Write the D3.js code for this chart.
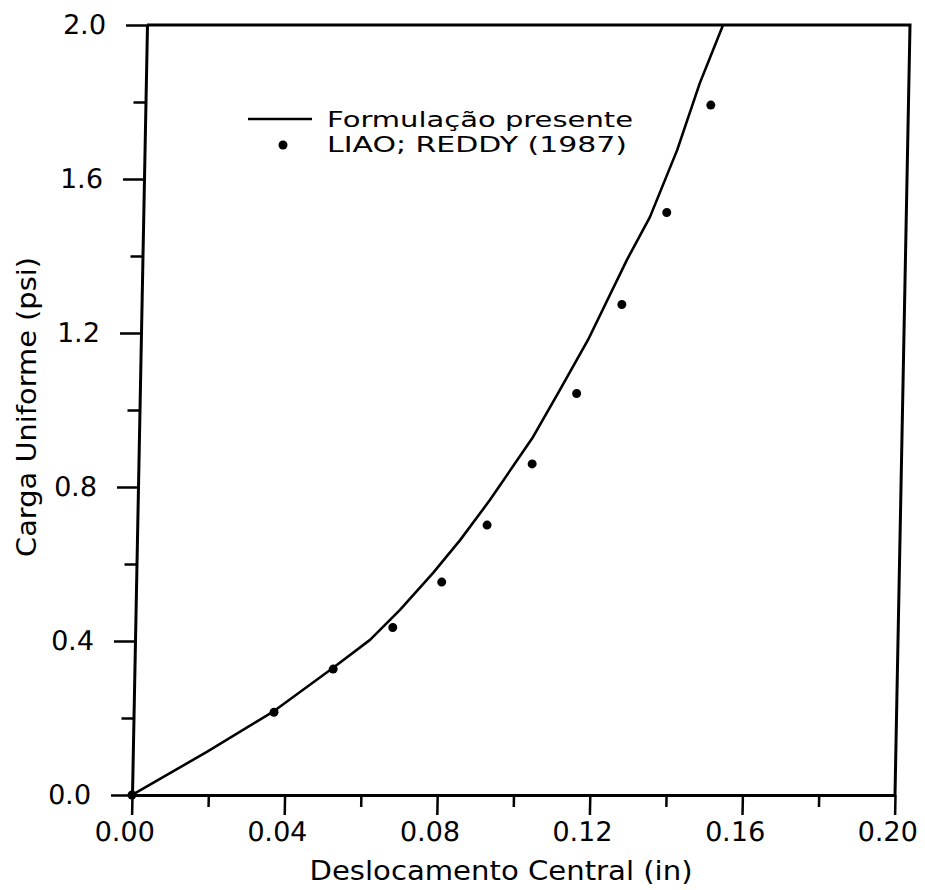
<!DOCTYPE html>
<html>
<head>
<meta charset="utf-8">
<script src="https://cdn.jsdelivr.net/npm/d3@7"></script>
<style>
  html, body { margin: 0; padding: 0; background: #fff; }
  svg { display: block; font-family: "DejaVu Sans", sans-serif; }
</style>
</head>
<body>
<svg id="chart" width="925" height="890"></svg>
<script>
// ---- data ----
const curveX = [0, 0.0194, 0.0368, 0.0520, 0.0616, 0.0693, 0.0778, 0.0847, 0.0923, 0.1033, 0.1101, 0.1172, 0.1270, 0.1328, 0.1396, 0.1452, 0.1510];
const curveY = [0, 0.112, 0.218, 0.330, 0.403, 0.481, 0.577, 0.662, 0.766, 0.930, 1.052, 1.182, 1.390, 1.501, 1.675, 1.849, 2.000];
const refX = [0, 0.0368, 0.0521, 0.0675, 0.0801, 0.0917, 0.1032, 0.1145, 0.1259, 0.1372, 0.1482];
const refY = [0, 0.215, 0.327, 0.435, 0.553, 0.701, 0.860, 1.043, 1.274, 1.513, 1.792];
const xTicks = [0, 0.04, 0.08, 0.12, 0.16, 0.20];
const xMinor = [0.02, 0.06, 0.10, 0.14, 0.18];
const yTicks = [0, 0.4, 0.8, 1.2, 1.6, 2.0];
const yMinor = [0.2, 0.6, 1.0, 1.4, 1.8];
const xTitle = "Deslocamento Central (in)";
const yTitle = "Carga Uniforme (psi)";
const legendLabels = ["Formulação presente", "LIAO; REDDY (1987)"];

// ---- layout ----
const svg = d3.select("#chart");
const W = 763, H = 770;
const originX = 132, originY = 795;
const skew = Math.atan(-15 / 770) * 180 / Math.PI;

const x = d3.scaleLinear().domain([0, 0.2]).range([0, W]);
const y = d3.scaleLinear().domain([0, 2]).range([0, -H]);

const g = svg.append("g")
  .attr("transform", `translate(${originX},${originY}) skewX(${skew})`);

g.append("clipPath").attr("id", "clip")
  .append("rect").attr("x", 0).attr("y", -H).attr("width", W).attr("height", H);

// minor ticks
g.append("g")
  .call(d3.axisBottom(x).tickValues(xMinor).tickSize(12).tickFormat(""))
  .call(s => s.select(".domain").remove())
  .selectAll("line").attr("stroke", "#000").attr("stroke-width", 2.5);
g.append("g").attr("transform", `translate(0,${-H})`)
  .call(d3.axisLeft(y.copy().range([H, 0])).tickValues(yMinor).tickSize(12).tickFormat(""))
  .call(s => s.select(".domain").remove())
  .selectAll("line").attr("stroke", "#000").attr("stroke-width", 2.5);

// major x axis
const xa = g.append("g")
  .call(d3.axisBottom(x).tickValues(xTicks).tickSize(20).tickSizeOuter(0).tickPadding(7)
    .tickFormat(d3.format(".2f")));
xa.select(".domain").attr("stroke", "#000").attr("stroke-width", 3);
xa.selectAll("line").attr("stroke", "#000").attr("stroke-width", 2.5);
xa.selectAll("text").attr("font-size", 27).attr("fill", "#000")
  .attr("font-family", "DejaVu Sans").attr("dx", -7);

// major y axis
const ya = g.append("g").attr("transform", `translate(0,${-H})`)
  .call(d3.axisLeft(y.copy().range([H, 0])).tickValues(yTicks).tickSize(21).tickSizeOuter(0).tickPadding(20)
    .tickFormat(d3.format(".1f")));
ya.select(".domain").attr("stroke", "#000").attr("stroke-width", 3);
ya.selectAll("line").attr("stroke", "#000").attr("stroke-width", 2.5);
ya.selectAll("text").attr("font-size", 27).attr("fill", "#000")
  .attr("font-family", "DejaVu Sans");

// top and right frame
g.append("path")
  .attr("d", `M${x(0)},${y(2)}H${x(0.2)}V${y(0)}`)
  .attr("fill", "none").attr("stroke", "#000").attr("stroke-width", 3);

// curve
const curveData = curveX.map((v, i) => [v, curveY[i]]);
g.append("path")
  .datum(curveData)
  .attr("clip-path", "url(#clip)")
  .attr("fill", "none").attr("stroke", "#000").attr("stroke-width", 2.6)
  .attr("stroke-linejoin", "round")
  .attr("d", d3.line().x(d => x(d[0])).y(d => y(d[1])));

// reference points
const refData = refX.map((v, i) => [v, refY[i]]);
g.selectAll("circle.ref").data(refData).join("circle")
  .attr("class", "ref")
  .attr("cx", d => x(d[0])).attr("cy", d => y(d[1])).attr("r", 4.5)
  .attr("fill", "#000");

// axis titles
svg.append("text")
  .attr("x", 501).attr("y", 880).attr("text-anchor", "middle")
  .attr("font-size", 26).attr("fill", "#000")
  .attr("textLength", 383).attr("lengthAdjust", "spacingAndGlyphs")
  .text(xTitle);
svg.append("text")
  .attr("transform", "translate(36,407) rotate(-90)")
  .attr("text-anchor", "middle")
  .attr("font-size", 26).attr("fill", "#000")
  .attr("textLength", 300).attr("lengthAdjust", "spacingAndGlyphs")
  .text(yTitle);

// legend
const leg = svg.append("g");
leg.append("line").attr("x1", 248).attr("x2", 312).attr("y1", 119).attr("y2", 119)
  .attr("stroke", "#000").attr("stroke-width", 2.6);
leg.append("circle").attr("cx", 283).attr("cy", 145).attr("r", 4.5).attr("fill", "#000");
leg.append("text").attr("x", 327).attr("y", 127).attr("font-size", 21).attr("fill", "#000")
  .attr("textLength", 306).attr("lengthAdjust", "spacingAndGlyphs").text(legendLabels[0]);
leg.append("text").attr("x", 327).attr("y", 152).attr("font-size", 21).attr("fill", "#000")
  .attr("textLength", 300).attr("lengthAdjust", "spacingAndGlyphs").text(legendLabels[1]);
</script>
</body>
</html>
